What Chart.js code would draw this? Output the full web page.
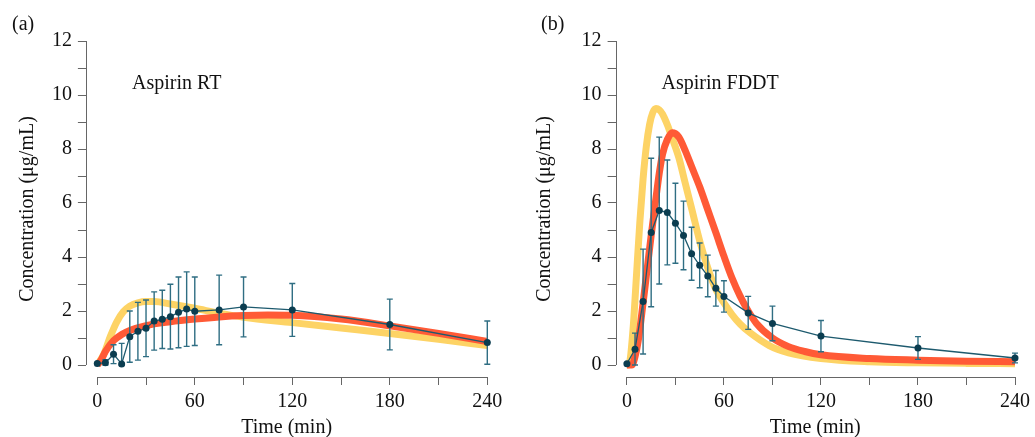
<!DOCTYPE html>
<html>
<head>
<meta charset="utf-8">
<script src="https://cdn.jsdelivr.net/npm/chart.js@4"></script>
<style>
  html, body { margin: 0; padding: 0; background: #fff; }
  #wrap { position: relative; width: 1035px; height: 437px; }
  canvas { position: absolute; top: 0; }
</style>
</head>
<body>
<div id="wrap">
  <canvas id="rt" width="517" height="437" style="left:0"></canvas>
  <canvas id="fddt" width="518" height="437" style="left:517px"></canvas>
</div>
<script>
// sampling times (min)
const times = [0, 5, 10, 15, 20, 25, 30, 35, 40, 45, 50, 55, 60, 75, 90, 120, 180, 240];

// Aspirin RT: observed mean and SD (µg/mL)
const rtMean = [0.06, 0.08, 0.40, 0.04, 1.05, 1.25, 1.36, 1.63, 1.69, 1.79, 1.95, 2.07, 1.99, 2.04, 2.15, 2.04, 1.50, 0.83];
const rtSd   = [0.00, 0.12, 0.35, 0.76, 0.95, 1.07, 1.05, 1.08, 1.08, 1.20, 1.31, 1.38, 1.27, 1.29, 1.11, 0.98, 0.94, 0.80];

// Aspirin RT: model curves
const rtYellowT = [0, 4, 8, 12, 16, 20, 25, 30, 35, 45, 60, 75, 90, 120, 150, 180, 210, 240];
const rtYellowC = [0, 0.40, 1.05, 1.60, 1.97, 2.18, 2.30, 2.35, 2.35, 2.26, 2.10, 1.92, 1.77, 1.57, 1.37, 1.17, 0.95, 0.72];
const rtRedT = [0, 2, 5, 10, 15, 20, 30, 45, 60, 75, 90, 105, 120, 150, 180, 210, 240];
const rtRedC = [0, 0.15, 0.50, 0.90, 1.13, 1.28, 1.46, 1.60, 1.70, 1.78, 1.83, 1.85, 1.84, 1.70, 1.45, 1.17, 0.87];

// Aspirin FDDT: observed mean and SD (µg/mL)
const fdMean = [0.05, 0.58, 2.35, 4.91, 5.72, 5.65, 5.25, 4.80, 4.12, 3.69, 3.30, 2.84, 2.54, 1.93, 1.54, 1.07, 0.63, 0.26];
const fdSd   = [0.03, 0.60, 1.94, 2.75, 2.72, 1.94, 1.48, 1.27, 0.98, 0.83, 0.77, 0.66, 0.58, 0.61, 0.64, 0.58, 0.42, 0.18];

// Aspirin FDDT: model curves
const fdYellowT = [0, 1, 2, 4, 6, 8, 10, 12, 14, 16, 18, 20, 22, 25, 28, 32, 36, 40, 45, 50, 55, 60, 65, 70, 76, 88, 100, 120, 150, 180, 210, 240];
const fdYellowC = [0, 0, 0.2, 1.5, 3.4, 5.3, 6.9, 8.1, 8.9, 9.35, 9.5, 9.45, 9.3, 8.9, 8.4, 7.7, 6.75, 5.8, 4.6, 3.6, 2.8, 2.3, 1.87, 1.52, 1.2, 0.72, 0.45, 0.24, 0.12, 0.08, 0.06, 0.05];
const fdRedT = [0, 3, 5, 7, 10, 12, 15, 18, 20, 22, 25, 28, 32, 36, 40, 45, 50, 55, 60, 65, 70, 75, 80, 90, 100, 110, 120, 150, 180, 210, 240];
const fdRedC = [0, 0, 0.3, 0.9, 2.3, 3.3, 4.8, 6.2, 7.1, 7.8, 8.35, 8.6, 8.45, 7.95, 7.35, 6.6, 5.75, 4.9, 4.03, 3.22, 2.55, 2.0, 1.55, 1.0, 0.68, 0.5, 0.38, 0.24, 0.18, 0.14, 0.12];

const yTicks = [0, 1, 2, 3, 4, 5, 6, 7, 8, 9, 10, 11, 12];
const xTicks = [0, 30, 60, 90, 120, 150, 180, 210, 240];

const FONT = '"Liberation Serif", "Times New Roman", serif';
const YELLOW = '#fdd365';
const RED = '#ff5a36';
const DARK = '#0b3d50';
const BAR = '#2f6e83';
const AXIS = '#666';

const pts = (xs, ys) => xs.map((x, i) => ({ x, y: ys[i] }));

// axis lines, error bars and text labels
const decor = {
  id: 'decor',
  beforeDatasetDraw(chart, args, opts) {
    if (args.index !== 0) return;
    const { ctx, scales: { x, y } } = chart;
    ctx.save();
    ctx.strokeStyle = BAR;
    ctx.lineWidth = 1.4;
    opts.mean.forEach((m, i) => {
      const sd = opts.sd[i];
      if (!sd) return;
      const px = x.getPixelForValue(times[i]);
      const top = y.getPixelForValue(m + sd);
      const bot = y.getPixelForValue(Math.max(0, m - sd));
      ctx.beginPath();
      ctx.moveTo(px, top); ctx.lineTo(px, bot);
      ctx.moveTo(px - 3, top); ctx.lineTo(px + 3, top);
      ctx.moveTo(px - 3, bot); ctx.lineTo(px + 3, bot);
      ctx.stroke();
    });
    ctx.restore();
  },
  afterDraw(chart, args, opts) {
    const { ctx, chartArea: a, scales: { x, y } } = chart;
    ctx.save();
    ctx.strokeStyle = AXIS;
    ctx.lineWidth = 1;
    const lx = Math.round(a.left) + 0.5;
    const by = Math.round(a.bottom) + 0.5;
    ctx.beginPath();
    ctx.moveTo(lx, y.getPixelForValue(12));
    ctx.lineTo(lx, y.getPixelForValue(0));
    ctx.moveTo(x.getPixelForValue(0), by);
    ctx.lineTo(x.getPixelForValue(240), by);
    ctx.stroke();

    ctx.fillStyle = '#111';
    ctx.font = '20px ' + FONT;
    ctx.textBaseline = 'middle';
    ctx.textAlign = 'left';
    ctx.fillText(opts.panel, opts.panelX, 25);
    ctx.fillText(opts.name, x.getPixelForValue(21.4), y.getPixelForValue(10.4));
    ctx.restore();
  }
};

function makeChart(id, mean, sd, yelT, yelC, redT, redC, axisW, padRight, panel, panelX, name) {
  return new Chart(document.getElementById(id), {
    type: 'line',
    data: {
      datasets: [
        {
          data: pts(times, mean), order: 0,
          borderColor: '#1d5a6e', borderWidth: 1.3,
          pointRadius: 3.5, pointBackgroundColor: DARK, pointBorderWidth: 0,
          tension: 0
        },
        {
          data: pts(redT, redC), order: 1,
          borderColor: RED, borderWidth: 7, pointRadius: 0,
          cubicInterpolationMode: 'monotone', borderCapStyle: 'butt'
        },
        {
          data: pts(yelT, yelC), order: 2,
          borderColor: YELLOW, borderWidth: 7, pointRadius: 0,
          cubicInterpolationMode: 'monotone', borderCapStyle: 'butt'
        }
      ]
    },
    options: {
      responsive: false,
      animation: false,
      events: [],
      clip: false,
      layout: { padding: { left: 0, right: padRight, top: 41, bottom: 0 } },
      plugins: {
        legend: { display: false },
        tooltip: { enabled: false },
        decor: { mean, sd, panel, panelX, name }
      },
      scales: {
        x: {
          type: 'linear', min: -7, max: 240,
          afterBuildTicks: s => { s.ticks = xTicks.map(v => ({ value: v })); },
          afterFit: s => { s.height = 60; },
          border: { display: false },
          grid: { drawOnChartArea: false, tickLength: 8, color: AXIS },
          ticks: {
            autoSkip: false, maxRotation: 0, padding: 5, color: '#111',
            font: { family: FONT, size: 20 },
            callback: v => (v % 60 === 0 ? v : '')
          },
          title: {
            display: true, text: 'Time (min)', color: '#111',
            font: { family: FONT, size: 20 }, padding: { top: 0, bottom: -3 }
          }
        },
        y: {
          min: -12 / 27, max: 12,
          afterBuildTicks: s => { s.ticks = yTicks.map(v => ({ value: v })); },
          afterFit: s => { s.width = axisW; },
          border: { display: false },
          grid: { drawOnChartArea: false, tickLength: 8, color: AXIS },
          ticks: {
            autoSkip: false, padding: 6, color: '#111',
            font: { family: FONT, size: 20 },
            callback: v => (v % 2 === 0 ? v : '')
          },
          title: {
            display: true, text: 'Concentration (μg/mL)', color: '#111',
            font: { family: FONT, size: 20 }, padding: { top: 16, bottom: 0 }
          }
        }
      }
    },
    plugins: [decor]
  });
}

makeChart('rt', rtMean, rtSd, rtYellowT, rtYellowC, rtRedT, rtRedC, 85.9, 29.7, '(a)', 12, 'Aspirin RT');
makeChart('fddt', fdMean, fdSd, fdYellowT, fdYellowC, fdRedT, fdRedC, 98.6, 18, '(b)', 24, 'Aspirin FDDT');
</script>
</body>
</html>
